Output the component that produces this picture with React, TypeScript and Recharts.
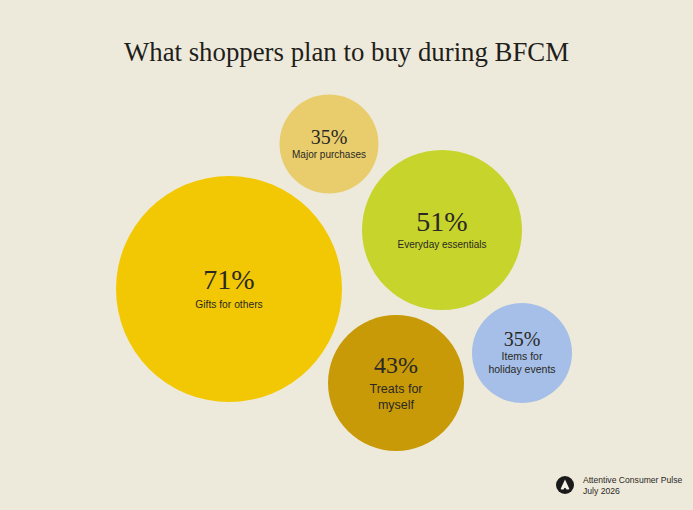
import React from "react";
import { ScatterChart, Scatter, XAxis, YAxis, ZAxis, Cell } from "recharts";

// survey shares (%) and their labels
const categories = [
  "Gifts for others",
  "Major purchases",
  "Everyday essentials",
  "Treats for myself",
  "Items for holiday events",
];
const labelLines = [
  ["Gifts for others"],
  ["Major purchases"],
  ["Everyday essentials"],
  ["Treats for", "myself"],
  ["Items for", "holiday events"],
];
const shares = [71, 35, 51, 43, 35];

// packed-bubble layout (chart units)
const bubbleX = [229, 329, 442, 396, 522];
const bubbleY = [289, 144, 230, 383, 353];
const bubbleSize = [12769, 2450, 6400, 4624, 2500]; // ~ radius squared

const COLORS = ["#F2C805", "#E9CD6C", "#C6D42B", "#C99A07", "#A5BFE8"];
const PCT_FONT = [28, 20, 28, 24, 20];
const LABEL_FONT = [10.3, 10, 10, 12.5, 10.5];
const LABEL_GAP = [19, 14, 17, 20, 14];
const LINE_GAP = [0, 0, 0, 16, 13];

const W = 693;
const H = 510;
const BG = "#EEEADB";
const INK = "#2A2824";

const data = categories.map((name, i) => ({
  name,
  share: shares[i],
  lines: labelLines[i],
  x: bubbleX[i],
  y: bubbleY[i],
  size: bubbleSize[i],
  idx: i,
}));

function Bubble(props: any) {
  const { cx, cy, width, fill, payload } = props;
  const r = width / 2;
  const i = payload.idx;
  const pf = PCT_FONT[i];
  const cap = pf * 0.66;
  const n = payload.lines.length;
  const block = cap + LABEL_GAP[i] + (n - 1) * LINE_GAP[i];
  const base = cy - block / 2 + cap;
  return (
    <g>
      <circle cx={cx} cy={cy} r={r} fill={fill} />
      <text
        x={cx}
        y={base}
        textAnchor="middle"
        fontFamily="'Liberation Serif', serif"
        fontSize={pf}
        fill={INK}
      >
        {payload.share}%
      </text>
      {payload.lines.map((line: string, k: number) => (
        <text
          key={k}
          x={cx}
          y={base + LABEL_GAP[i] + k * LINE_GAP[i]}
          textAnchor="middle"
          fontFamily="'Liberation Sans', Arial, sans-serif"
          fontSize={LABEL_FONT[i]}
          fill={INK}
        >
          {line}
        </text>
      ))}
    </g>
  );
}

export default function App() {
  return (
    <div
      style={{
        position: "absolute",
        left: 0,
        top: 0,
        width: W,
        height: H,
        background: BG,
        overflow: "hidden",
      }}
    >
      <div
        style={{
          position: "absolute",
          top: 36,
          left: 0,
          width: W,
          textAlign: "center",
          fontFamily: "'Liberation Serif', serif",
          fontSize: 26.8,
          color: "#1F1E1B",
          lineHeight: "32px",
        }}
      >
        What shoppers plan to buy during BFCM
      </div>

      <ScatterChart width={W} height={H} margin={{ top: 0, right: 0, bottom: 0, left: 0 }}>
        <XAxis type="number" dataKey="x" domain={[0, W]} hide />
        <YAxis type="number" dataKey="y" domain={[0, H]} reversed hide />
        <ZAxis type="number" dataKey="size" domain={[0, 20000]} range={[0, 20000 * Math.PI]} />
        <Scatter data={data} shape={<Bubble />} isAnimationActive={false}>
          {data.map((d, i) => (
            <Cell key={d.name} fill={COLORS[i]} />
          ))}
        </Scatter>
      </ScatterChart>

      {/* source */}
      <svg
        width={20}
        height={20}
        style={{ position: "absolute", left: 555, top: 475 }}
      >
        <circle cx={10} cy={10} r={9} fill="#1A1A1A" />
        <path d="M10 4.5 L14.2 13.5 Q14.5 14.5 13.3 14.5 L11.5 14.5 Q10 11 8.5 14.5 L6.7 14.5 Q5.5 14.5 5.8 13.5 Z" fill="#F4F1E6" />
      </svg>
      <div
        style={{
          position: "absolute",
          left: 583,
          top: 475,
          fontFamily: "'Liberation Sans', Arial, sans-serif",
          fontSize: 8.6,
          lineHeight: "11px",
          color: "#2A2824",
          whiteSpace: "nowrap",
        }}
      >
        <div>Attentive Consumer Pulse</div>
        <div>July 2026</div>
      </div>
    </div>
  );
}
